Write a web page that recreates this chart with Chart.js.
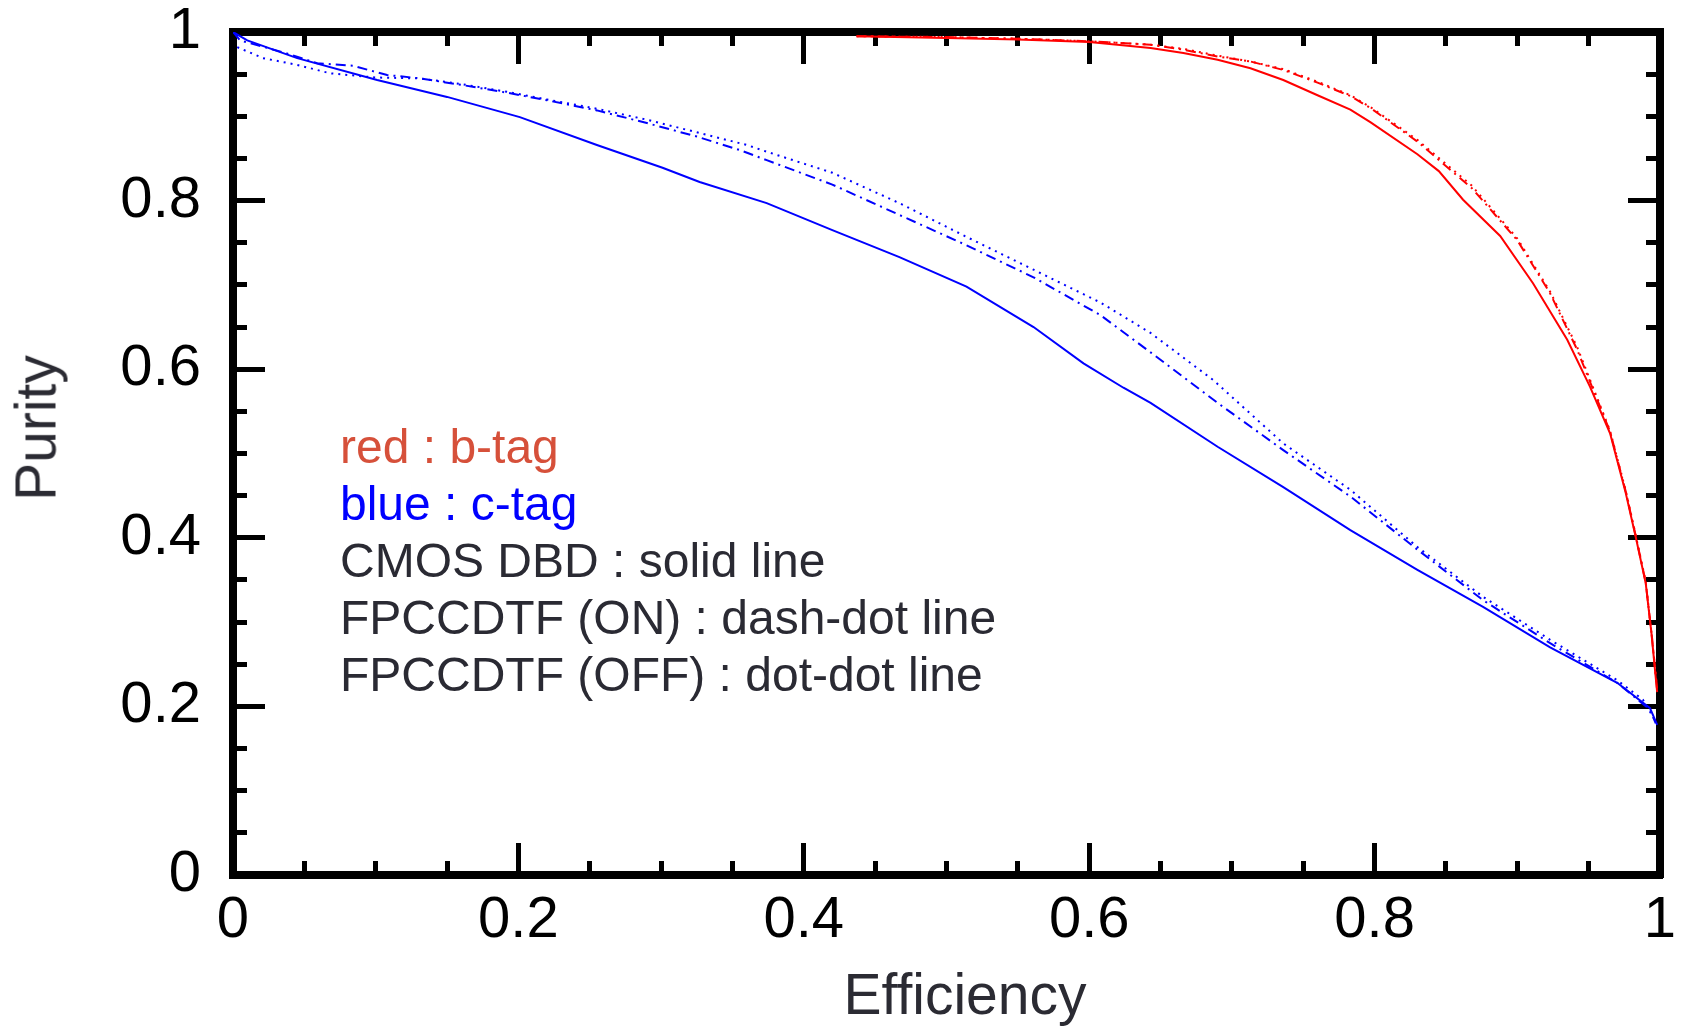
<!DOCTYPE html>
<html>
<head>
<meta charset="utf-8">
<title>Purity vs Efficiency</title>
<script src="https://cdn.jsdelivr.net/npm/chart.js@4.4.0/dist/chart.umd.min.js"></script>
<style>
  html, body { margin: 0; padding: 0; background: #fff; }
  #wrap { position: relative; width: 1684px; height: 1030px; }
  #plot { position: absolute; left: 0; top: 0; }
  #notes {
    position: absolute; left: 340px; top: 418px;
    font-family: "Liberation Sans", Arial, sans-serif;
    font-size: 48px; line-height: 57px; color: #2a2a33;
    white-space: nowrap;
  }
  .red { color: #d6503a; }
  .blue { color: #0000ff; }
  .axis-title {
    position: absolute;
    font-family: "Liberation Sans", Arial, sans-serif;
    font-size: 57px; line-height: 57px; color: #2b2b33;
    white-space: nowrap;
  }
  #xTitle { left: 965px; top: 994px; transform: translate(-50%, -50%); }
  #yTitle { left: 36px; top: 428px; transform: translate(-50%, -50%) rotate(-90deg); }
</style>
</head>
<body>
<div id="wrap">
  <canvas id="plot" width="1684" height="1030"></canvas>
  <div id="notes">
    <div class="red">red : b-tag</div>
    <div class="blue">blue : c-tag</div>
    <div>CMOS DBD : solid line</div>
    <div>FPCCDTF (ON) : dash-dot line</div>
    <div>FPCCDTF (OFF) : dot-dot line</div>
  </div>
  <div id="xTitle" class="axis-title">Efficiency</div>
  <div id="yTitle" class="axis-title">Purity</div>
</div>
<script>
// b-tag (red) curves
const effBSolid = [0.437, 0.5, 0.55, 0.6, 0.643, 0.666, 0.69, 0.713, 0.736, 0.76, 0.783, 0.797, 0.83, 0.845, 0.862, 0.888, 0.911, 0.935, 0.951, 0.965, 0.976, 0.983, 0.99, 0.994, 0.998];
const purBSolid = [0.995, 0.993, 0.991, 0.988, 0.981, 0.975, 0.967, 0.957, 0.943, 0.925, 0.908, 0.893, 0.855, 0.835, 0.801, 0.758, 0.702, 0.635, 0.579, 0.524, 0.453, 0.401, 0.346, 0.287, 0.217];

const effBOn = [0.437, 0.5, 0.55, 0.6, 0.643, 0.666, 0.69, 0.713, 0.736, 0.76, 0.783, 0.797, 0.83, 0.868, 0.9, 0.923, 0.942, 0.955, 0.965, 0.976, 0.983, 0.99, 0.994, 0.998];
const purBOn = [0.995, 0.994, 0.992, 0.989, 0.985, 0.979, 0.971, 0.965, 0.955, 0.94, 0.924, 0.91, 0.87, 0.815, 0.753, 0.69, 0.623, 0.568, 0.526, 0.455, 0.402, 0.347, 0.288, 0.22];

const effBOff = [0.437, 0.5, 0.55, 0.6, 0.643, 0.666, 0.69, 0.713, 0.736, 0.76, 0.783, 0.797, 0.83, 0.868, 0.9, 0.923, 0.942, 0.955, 0.965, 0.976, 0.983, 0.99, 0.994, 0.998];
const purBOff = [0.995, 0.994, 0.992, 0.989, 0.985, 0.98, 0.972, 0.965, 0.956, 0.941, 0.925, 0.911, 0.872, 0.818, 0.755, 0.692, 0.626, 0.57, 0.527, 0.456, 0.403, 0.348, 0.288, 0.22];

// c-tag (blue) curves
const effCSolid = [0, 0.01, 0.045, 0.101, 0.15, 0.201, 0.255, 0.301, 0.327, 0.374, 0.42, 0.467, 0.514, 0.561, 0.596, 0.624, 0.643, 0.69, 0.736, 0.783, 0.83, 0.876, 0.923, 0.97, 0.993, 0.998];
const purCSolid = [1.0, 0.99, 0.969, 0.943, 0.923, 0.899, 0.866, 0.839, 0.822, 0.797, 0.765, 0.733, 0.698, 0.65, 0.607, 0.578, 0.56, 0.508, 0.46, 0.409, 0.362, 0.318, 0.27, 0.228, 0.198, 0.178];

const effCOn = [0, 0.005, 0.035, 0.059, 0.084, 0.108, 0.131, 0.161, 0.192, 0.22, 0.255, 0.29, 0.325, 0.355, 0.374, 0.42, 0.467, 0.514, 0.561, 0.608, 0.643, 0.69, 0.736, 0.783, 0.83, 0.876, 0.923, 0.97, 0.993, 0.997];
const purCOn = [1.0, 0.99, 0.976, 0.963, 0.96, 0.949, 0.945, 0.937, 0.928, 0.919, 0.907, 0.892, 0.876, 0.86, 0.848, 0.819, 0.783, 0.747, 0.709, 0.664, 0.62, 0.56, 0.504, 0.449, 0.386, 0.326, 0.275, 0.228, 0.196, 0.18];

const effCOff = [0.003, 0.021, 0.045, 0.068, 0.1, 0.131, 0.161, 0.192, 0.22, 0.255, 0.29, 0.325, 0.36, 0.374, 0.42, 0.467, 0.514, 0.561, 0.608, 0.643, 0.687, 0.736, 0.783, 0.83, 0.876, 0.923, 0.97, 0.988, 0.996];
const purCOff = [0.982, 0.969, 0.961, 0.951, 0.946, 0.945, 0.938, 0.929, 0.92, 0.909, 0.896, 0.881, 0.866, 0.858, 0.833, 0.797, 0.757, 0.718, 0.679, 0.643, 0.587, 0.512, 0.457, 0.389, 0.33, 0.279, 0.231, 0.208, 0.185];

const fontFamily = '"Liberation Sans", Arial, sans-serif';
const dashDot = [10, 5, 2, 5];
const dotDot = [2, 5];

function pts(xs, ys) {
  return xs.map((x, i) => ({ x: x, y: ys[i] }));
}

function curve(xs, ys, color, dash) {
  return {
    data: pts(xs, ys),
    showLine: true,
    borderColor: color,
    borderWidth: 2,
    borderDash: dash,
    pointRadius: 0,
    fill: false,
    tension: 0
  };
}

const isMajor = v => Math.abs(v * 5 - Math.round(v * 5)) < 1e-6;

// inward ticks: long for 0.2 steps, short (dash-cut) for 0.05 steps
function tickGrid(offsetMinor) {
  return {
    display: true,
    drawOnChartArea: false,
    drawTicks: true,
    tickLength: -32,
    tickWidth: 5,
    tickColor: "#000",
    tickBorderDash: ctx => (ctx.tick && isMajor(ctx.tick.value)) ? [] : [18, 18],
    tickBorderDashOffset: ctx => (ctx.tick && isMajor(ctx.tick.value)) ? 0 : offsetMinor
  };
}

const border = { display: true, color: "#000", width: 8 };

function fixSize(prop, size) {
  return scale => {
    scale[prop] = size;
    scale.paddingTop = 0;
    scale.paddingBottom = 0;
    scale.paddingLeft = 0;
    scale.paddingRight = 0;
  };
}

const labelCb = v => isMajor(v) ? String(+v.toFixed(1)) : "";

new Chart(document.getElementById("plot"), {
  type: "scatter",
  data: {
    datasets: [
      curve(effBSolid, purBSolid, "#ff0000", []),
      curve(effBOn, purBOn, "#ff0000", dashDot),
      curve(effBOff, purBOff, "#ff0000", dotDot),
      curve(effCSolid, purCSolid, "#0000ff", []),
      curve(effCOn, purCOn, "#0000ff", dashDot),
      curve(effCOff, purCOff, "#0000ff", dotDot)
    ]
  },
  options: {
    responsive: false,
    devicePixelRatio: 1,
    animation: false,
    layout: { padding: 0 },
    plugins: {
      legend: { display: false },
      tooltip: { enabled: false }
    },
    scales: {
      x: {
        type: "linear",
        position: "bottom",
        min: 0,
        max: 1,
        grid: tickGrid(0),
        border: border,
        ticks: {
          stepSize: 0.05,
          maxTicksLimit: 21,
          autoSkip: false,
          maxRotation: 0,
          padding: 49,
          color: "#000",
          font: { family: fontFamily, size: 58, lineHeight: 1 },
          callback: labelCb
        },
        afterFit: fixSize("height", 155)
      },
      x2: {
        type: "linear",
        position: "top",
        min: 0,
        max: 1,
        grid: tickGrid(18),
        border: border,
        ticks: { display: false, stepSize: 0.05, maxTicksLimit: 21 },
        afterFit: fixSize("height", 32)
      },
      y: {
        type: "linear",
        position: "left",
        min: 0,
        max: 1,
        grid: tickGrid(18),
        border: border,
        ticks: {
          stepSize: 0.05,
          maxTicksLimit: 21,
          autoSkip: false,
          padding: 64,
          color: "#000",
          font: { family: fontFamily, size: 58, lineHeight: 1 },
          callback: labelCb
        },
        afterFit: fixSize("width", 233)
      },
      y2: {
        type: "linear",
        position: "right",
        min: 0,
        max: 1,
        grid: tickGrid(0),
        border: border,
        ticks: { display: false, stepSize: 0.05, maxTicksLimit: 21 },
        afterFit: fixSize("width", 24)
      }
    }
  }
});
</script>
</body>
</html>
